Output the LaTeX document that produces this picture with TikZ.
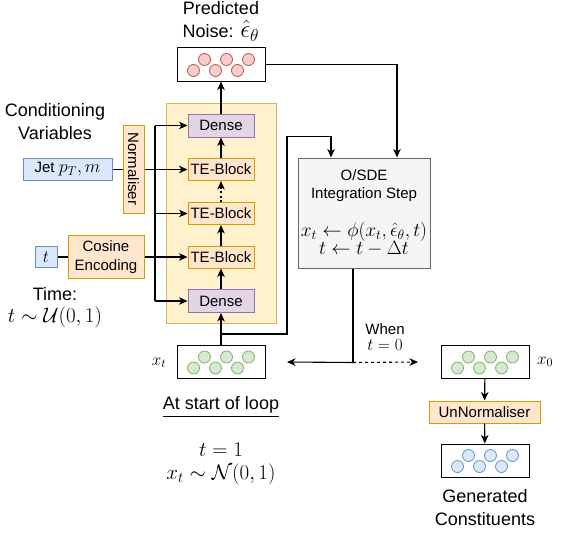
\RequirePackage{fix-cm}
\documentclass[tikz,border=0pt]{standalone}
\usepackage[no-math]{fontspec}
\setmainfont{Liberation Sans}
\usepackage{amsmath}
\usetikzlibrary{arrows.meta,calc}
\definecolor{redF}{HTML}{F8CECC}\definecolor{redS}{HTML}{B85450}
\definecolor{grnF}{HTML}{D5E8D4}\definecolor{grnS}{HTML}{82B366}
\definecolor{bluF}{HTML}{DAE8FC}\definecolor{bluS}{HTML}{6C8EBF}
\definecolor{ylwF}{HTML}{FFF2CC}\definecolor{ylwS}{HTML}{D6B656}
\definecolor{purF}{HTML}{E1D5E7}\definecolor{purS}{HTML}{9673A6}
\definecolor{orgF}{HTML}{FFE6CC}\definecolor{orgS}{HTML}{D79B00}
\definecolor{gryF}{HTML}{F5F5F5}\definecolor{gryS}{HTML}{666666}
\tikzset{
  base/.style={draw, line width=1pt, inner sep=0pt, align=center, font=\fontsize{15}{18.5}\selectfont},
  databox/.style={base, draw=black, fill=white, minimum width=88pt, minimum height=33pt},
  densebox/.style={base, fill=purF, draw=purS, minimum width=66pt, minimum height=23pt},
  tebox/.style={base, fill=orgF, draw=orgS, minimum width=66pt, minimum height=22pt},
  condbox/.style={base, fill=bluF, draw=bluS, minimum height=22pt},
  encbox/.style={base, fill=orgF, draw=orgS},
  bigtxt/.style={align=center, inner sep=0pt, font=\fontsize{18}{22.5}\selectfont},
  smalltxt/.style={align=center, inner sep=0pt, font=\fontsize{15}{16}\selectfont},
  arr/.style={line width=1.1pt, -{Stealth[length=8.5pt,width=7.5pt,inset=2.5pt]}},
  ln/.style={line width=1.1pt},
  redc/.style={fill=redF, draw=redS, line width=0.8pt},
  grnc/.style={fill=grnF, draw=grnS, line width=0.8pt},
  bluc/.style={fill=bluF, draw=bluS, line width=0.8pt},
}
\newcommand{\dotrow}[2]{%
  \foreach \dx/\dy in {-27.5/6,-16.5/-5,-5.5/6,5.5/-5,16.5/6,27.5/-5}
    \draw[#2] ([shift={(\dx pt,-\dy pt)}]#1.center) circle (6pt);}
\begin{document}
\begin{tikzpicture}[x=1pt,y=-1pt]
\useasboundingbox (0,0) rectangle (567,535);
% background block
\node[base, fill=ylwF, draw=ylwS, minimum width=110pt, minimum height=220pt] (bg) at (221,213) {};
% network blocks
\node[densebox] (dense1) at (221,125.5) {Dense};
\node[tebox] (te1) at (221,169.5) {TE-Block};
\node[tebox] (te2) at (221,213.5) {TE-Block};
\node[tebox] (te3) at (221,257) {TE-Block};
\node[densebox] (dense2) at (221,301) {Dense};
% data boxes
\node[databox] (noise) at (221,64.5) {};
\dotrow{noise}{redc}
\node[databox] (xt) at (221,362) {};
\dotrow{xt}{grnc}
\node[databox] (x0) at (485,362) {};
\dotrow{x0}{grnc}
\node[databox] (gen) at (485,460.5) {};
\dotrow{gen}{bluc}
% conditioning
\node[condbox, minimum width=89pt] (jet) at (67.5,169.5) {Jet \fontsize{18}{18}\selectfont$p_T, m$};
\node[encbox, minimum width=21pt, minimum height=88pt] (norm) at (133.5,169) {\rotatebox{-90}{Normaliser}};
\node[condbox, minimum width=22pt, minimum height=21pt] (tbox) at (46,257) {\fontsize{17}{17}\selectfont$t$};
\node[encbox, minimum width=76pt, minimum height=43pt] (cos) at (106,257) {Cosine\\Encoding};
% integration
\node[base, fill=gryF, draw=gryS, minimum width=132pt, minimum height=110pt] (osde) at (364,213)
  {O/SDE\\Integration Step\\[19pt] \scalebox{1.05}{\fontsize{18.5}{18}\selectfont $x_t \leftarrow \phi(x_t,\hat{\epsilon}_\theta,t)$}\\ \scalebox{1.05}{\fontsize{18.5}{18}\selectfont $t \leftarrow t-\Delta t$}};
\node[encbox, minimum width=111pt, minimum height=22pt] (unnorm) at (484.5,412) {UnNormaliser};
% texts
\node[bigtxt] (lblnoise) at (221,21.5) {Predicted\\Noise: \scalebox{1.25}{\fontsize{20}{22.5}\selectfont$\hat{\epsilon}_\theta$}};
\node[bigtxt] (lblcond) at (55,121.5) {Conditioning\\Variables};
\node[bigtxt] (lbltime) at (55,307.5) {Time:\\\fontsize{21}{21}\selectfont$t\sim\mathcal{U}(0,1)$};
\node[bigtxt] (lblstart) at (221,407) {\underline{At start of loop}};
\node[bigtxt, font=\fontsize{21}{23}\selectfont] (lblinit) at (221,463.5) {$t=1$\\$x_t\sim\mathcal{N}(0,1)$};
\node[smalltxt] (lblwhen) at (385,337) {When\\\fontsize{17}{17}\selectfont$t=0$};
\node[bigtxt] (lblgen) at (485,507.5) {Generated\\Constituents};
\node[bigtxt, font=\fontsize{17}{18}\selectfont] (lblxt) at (159,363) {$x_t$};
\node[bigtxt, font=\fontsize{17}{18}\selectfont] (lblx0) at (545,362) {$x_0$};
% coordinates
\coordinate (bus) at (155,0);
\coordinate (split) at ($(xt.north)+(0,-11)$);
\coordinate (ret) at ($(osde.south)+(-11,94)$);
\coordinate (retend) at (287,362);
\coordinate (doneend) at (418,362);
% block chain
\draw[arr] (dense2) -- (te3);
\draw[arr] (te3) -- (te2);
\draw[arr, dash pattern=on 2pt off 2.5pt] (te2) -- (te1);
\draw[arr] (te1) -- (dense1);
\draw[arr] (dense1) -- (noise);
% conditioning lines
\draw[ln] (jet) -- (norm.west |- jet);
\draw[arr] (norm.east |- te1.west) -- (te1.west);
\draw[ln] (tbox) -- (cos);
\draw[arr] (cos.east) -- (te3.west);
\draw[ln] (bus |- dense1.west) -- (bus |- dense2.west);
\draw[arr] (bus |- dense1.west) -- (dense1.west);
\draw[arr] (bus |- te2.west) -- (te2.west);
\draw[arr] (bus |- dense2.west) -- (dense2.west);
% loop
\draw[arr] (xt) -- (dense2);
\draw[arr] (noise.east) -| ([xshift=33pt]osde.north);
\draw[arr] (split) -- ++(66,0) |- ([xshift=-33pt,yshift=21pt]osde.north) -- ([xshift=-33pt]osde.north);
\draw[ln] ([xshift=-11pt]osde.south) -- (ret);
\draw[arr] (ret) -- (retend);
\draw[arr, dashed] (ret) -- (doneend);
% output
\draw[arr] (x0) -- (unnorm);
\draw[arr] (unnorm) -- (gen);
\end{tikzpicture}
\end{document}
